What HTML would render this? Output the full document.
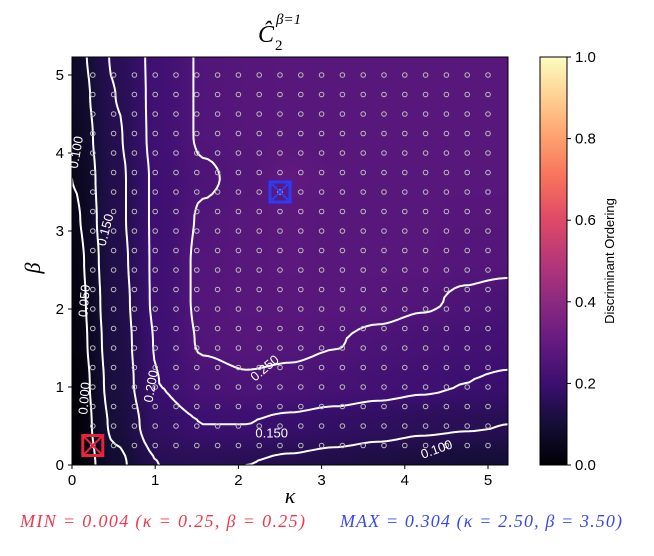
<!DOCTYPE html>
<html><head><meta charset="utf-8"><style>
body{margin:0;background:#fff;width:654px;height:556px;overflow:hidden;position:relative;font-family:"Liberation Sans",sans-serif}
#hm{position:absolute;left:72px;top:57px}
svg{position:absolute;left:0;top:0}
</style></head><body>
<canvas id="hm" width="436" height="408"></canvas>
<svg id="s" width="654" height="556"></svg>
<script>
const kappaGrid=[0,0.525,1.05,1.575,2.1,2.625,3.15,3.675,4.2,4.725,5.25];
const betaGrid=[5.25,4.725,4.2,3.675,3.15,2.625,2.1,1.575,1.05,0.525,0];
const values=[
[.08,.155,.215,.255,.265,.27,.27,.27,.27,.27,.27],
[.07,.15,.215,.255,.265,.27,.27,.27,.27,.27,.27],
[.06,.145,.215,.255,.265,.27,.27,.27,.27,.27,.27],
[.05,.14,.21,.245,.26,.29,.275,.27,.27,.27,.27],
[.04,.14,.21,.255,.27,.28,.27,.27,.27,.265,.265],
[.03,.135,.21,.26,.27,.28,.27,.27,.27,.26,.26],
[.025,.13,.21,.26,.27,.275,.27,.265,.255,.245,.235],
[.02,.125,.205,.255,.265,.26,.252,.24,.23,.22,.215],
[.01,.12,.2,.235,.245,.24,.23,.22,.21,.2,.195],
[.005,.11,.18,.2,.2,.19,.18,.17,.16,.155,.15],
[.00,.09,.15,.155,.15,.14,.13,.12,.11,.10,.10]];
const levels=[0.05,0.10,0.15,0.20,0.25];
const xTicks=[0,1,2,3,4,5];
const yTicks=[0,1,2,3,4,5];
const cTicks=[0,0.2,0.4,0.6,0.8,1.0];
const minPt=[0.25,0.25], maxPt=[2.5,3.5];

const L=72,T=57,W=436,H=408;
const xs=k=>L+k*83.2, ys=b=>465-b*78;
const NS="http://www.w3.org/2000/svg";
const svg=document.getElementById('s');
function mk(tag,at,name,txt){const e=document.createElementNS(NS,tag);for(const k in at)e.setAttribute(k,at[k]);


if(txt!=null)e.textContent=txt;svg.appendChild(e);return e;}
const mag=[[0,0,0,4],[.1,20,14,54],[.2,59,15,112],[.3,100,26,128],[.4,140,41,129],[.5,183,55,121],[.6,222,73,104],[.7,247,112,92],[.8,254,159,109],[.9,254,207,146],[1,252,253,191]];
function cmap(v){v=Math.max(0,Math.min(1,v));for(let i=1;i<mag.length;i++){if(v<=mag[i][0]){const a=mag[i-1],b=mag[i],t=(v-a[0])/(b[0]-a[0]);return [0,1,2].map(j=>Math.round(a[j+1]+(b[j+1]-a[j+1])*t));}}return mag[10].slice(1);}
const n=values.length,m=values[0].length,step=5.25/(m-1);
function f(k,b){let c=k/step,r=(5.25-b)/step;c=Math.max(0,Math.min(m-1.0001,c));r=Math.max(0,Math.min(n-1.0001,r));
const c0=Math.floor(c),r0=Math.floor(r);let tc=c-c0,tr=r-r0;tc=tc*tc*(3-2*tc);tr=tr*tr*(3-2*tr);
return values[r0][c0]*(1-tc)*(1-tr)+values[r0][c0+1]*tc*(1-tr)+values[r0+1][c0]*(1-tc)*tr+values[r0+1][c0+1]*tc*tr;}
const ctx=document.getElementById('hm').getContext('2d');const img=ctx.createImageData(W,H);
for(let y=0;y<H;y++)for(let x=0;x<W;x++){const c=cmap(f(x/83.2,(465-(T+y))/78));const i=(y*W+x)*4;img.data[i]=c[0];img.data[i+1]=c[1];img.data[i+2]=c[2];img.data[i+3]=255;}
ctx.putImageData(img,0,0);
const G=90,kmax=5.24,bmax=5.23;
const fg=[];for(let i=0;i<=G;i++){fg.push([]);for(let j=0;j<=G;j++)fg[i].push(f(j/G*kmax,i/G*bmax));}
levels.forEach(lv=>{let d='';
for(let i=0;i<G;i++)for(let j=0;j<G;j++){
const v=[fg[i][j],fg[i][j+1],fg[i+1][j+1],fg[i+1][j]];
const p=[[j,i],[j+1,i],[j+1,i+1],[j,i+1]];const pts=[];
for(let e=0;e<4;e++){const a=v[e],b=v[(e+1)%4];if((a<lv)!=(b<lv)){const t=(lv-a)/(b-a);const pa=p[e],pb=p[(e+1)%4];pts.push([pa[0]+(pb[0]-pa[0])*t,pa[1]+(pb[1]-pa[1])*t]);}}
for(let q=0;q+1<pts.length;q+=2){const P=pts[q],Q=pts[q+1];d+=`M${xs(P[0]/G*kmax).toFixed(1)},${ys(P[1]/G*bmax).toFixed(1)}L${xs(Q[0]/G*kmax).toFixed(1)},${ys(Q[1]/G*bmax).toFixed(1)}`;}}
mk('path',{d,stroke:'#fff','stroke-width':2,fill:'none','stroke-linecap':'round'},'contour-'+lv.toFixed(2));});
for(let i=1;i<=20;i++)for(let j=1;j<=20;j++)mk('circle',{cx:xs(i*0.25),cy:ys(j*0.25),r:2.3,fill:'none',stroke:'#bbb','stroke-width':1},'sample-point');
function marker(p,col,name){const x=xs(p[0]),y=ys(p[1]);mk('rect',{x:x-10,y:y-10,width:20,height:20,fill:'none',stroke:col,'stroke-width':3},name);
mk('path',{d:`M${x-9},${y-9}L${x+9},${y+9}M${x+9},${y-9}L${x-9},${y+9}`,stroke:col,'stroke-width':2},name+'-cross');}
marker(minPt,'#e8233a','min-marker');marker(maxPt,'#2a3cf5','max-marker');
mk('rect',{x:L,y:T,width:W,height:H,fill:'none',stroke:'#000','stroke-width':1},'plot-frame');
xTicks.forEach(t=>{mk('line',{x1:xs(t),x2:xs(t),y1:465,y2:469,stroke:'#000'},'x-tick');mk('text',{x:xs(t),y:485,'text-anchor':'middle','font-size':15},'x-tick-label',String(t));});
yTicks.forEach(t=>{mk('line',{x1:68,x2:72,y1:ys(t),y2:ys(t),stroke:'#000'},'y-tick');mk('text',{x:64,y:ys(t)+5,'text-anchor':'end','font-size':15},'y-tick-label',String(t));});
mk('text',{x:290,y:503,'text-anchor':'middle','font-size':22,'font-style':'italic','font-family':'Liberation Serif,serif'},'x-axis-title','κ');
mk('text',{x:40,y:268,'text-anchor':'middle','font-size':22,'font-style':'italic','font-family':'Liberation Serif,serif',transform:'rotate(-90 40 268)'},'y-axis-title','β');
mk('text',{x:258,y:42,'font-size':24,'font-style':'italic','font-family':'Liberation Serif,serif'},'chart-title','Ĉ');
mk('text',{x:275,y:50,'font-size':15,'font-family':'Liberation Serif,serif'},'chart-title-sub','2');
mk('text',{x:276,y:24,'font-size':15,'font-style':'italic','font-family':'Liberation Serif,serif'},'chart-title-sup','β=1');
[[0.1,4.0,'0.100',-80],[0.45,3.0,'0.150',-75],[0.2,2.1,'0.050',-85],[0.2,0.85,'0.000',-85],[1.0,1.0,'0.200',-80],[2.35,1.2,'0.250',-40],[2.4,0.35,'0.150',0],[4.4,0.15,'0.100',-20]].forEach(l=>{const x=xs(l[0]),y=ys(l[1]);mk('text',{x,y,'font-size':13,fill:'#fff','text-anchor':'middle',transform:`rotate(${l[3]} ${x} ${y})`},'contour-label',l[2]);});
const defs=mk('defs',{},'defs');const lg=document.createElementNS(NS,'linearGradient');lg.setAttribute('id','cg');lg.setAttribute('x1',0);lg.setAttribute('y1',1);lg.setAttribute('x2',0);lg.setAttribute('y2',0);
mag.forEach(s=>{const st=document.createElementNS(NS,'stop');st.setAttribute('offset',s[0]);st.setAttribute('stop-color',`rgb(${s[1]},${s[2]},${s[3]})`);lg.appendChild(st);});defs.appendChild(lg);
mk('rect',{x:540,y:57,width:27,height:408,fill:'url(#cg)',stroke:'#000','stroke-width':1},'colorbar');
cTicks.forEach(t=>{const y=465-t*408;mk('line',{x1:567,x2:571,y1:y,y2:y,stroke:'#000'},'colorbar-tick');mk('text',{x:575,y:y+5,'font-size':15},'colorbar-tick-label',t.toFixed(1));});
mk('text',{x:614,y:261,'text-anchor':'middle','font-size':13,transform:'rotate(-90 614 261)'},'colorbar-title','Discriminant Ordering');
mk('text',{x:20,y:527,'font-size':18,'font-style':'italic','font-family':'Liberation Serif,serif',fill:'#f0384e',textLength:285,lengthAdjust:'spacing'},'min-annotation','MIN = 0.004 (κ = 0.25, β = 0.25)');
mk('text',{x:340,y:527,'font-size':18,'font-style':'italic','font-family':'Liberation Serif,serif',fill:'#3a48f0',textLength:282,lengthAdjust:'spacing'},'max-annotation','MAX = 0.304 (κ = 2.50, β = 3.50)');
</script></body></html>
